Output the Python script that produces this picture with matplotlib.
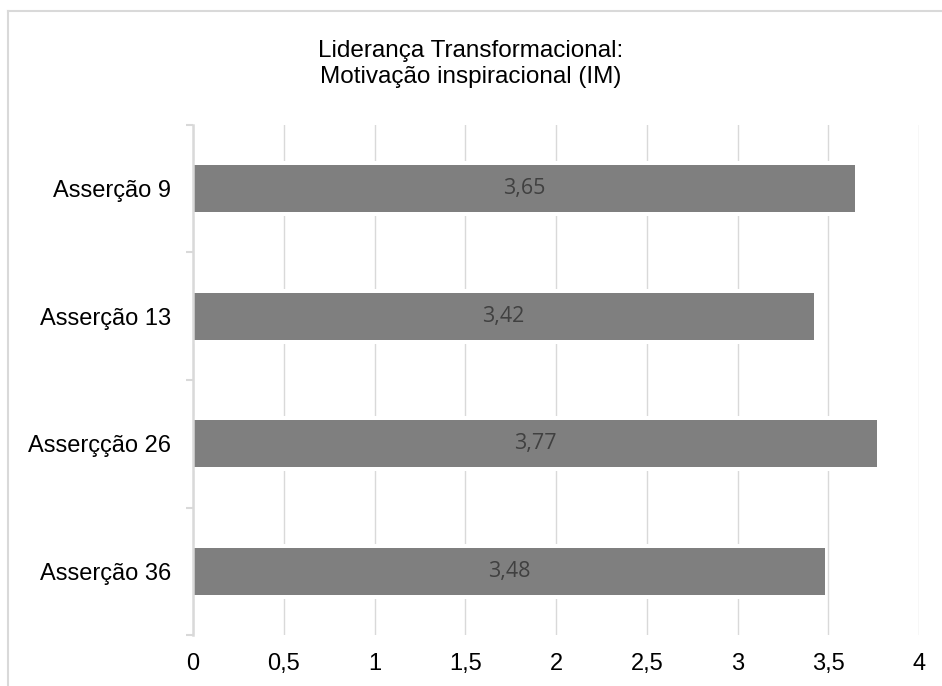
import matplotlib
matplotlib.use("Agg")
import matplotlib.pyplot as plt
from matplotlib.lines import Line2D
from matplotlib.ticker import FixedLocator, FuncFormatter
import numpy as np

# Data
categories = ["Asserção 9", "Asserção 13", "Asserçção 26", "Asserção 36"]
values = [3.65, 3.42, 3.77, 3.48]
value_labels = ["3,65", "3,42", "3,77", "3,48"]
x_ticks = [0, 0.5, 1, 1.5, 2, 2.5, 3, 3.5, 4]
title = "Liderança Transformacional:\nMotivação inspiracional (IM)"

plt.rcParams["font.family"] = ["Liberation Sans", "DejaVu Sans"]

fig = plt.figure(figsize=(9.42, 6.86), dpi=100)
ax = fig.add_axes([0.2049, 0.0743, 0.7707, 0.7435])

n = len(categories)
y = np.arange(n)[::-1]  # first category on top
bar_h = 0.366
gap = 0.032

GRID = "#d9d9d9"

# white halo so gridlines stop short of the bars
ax.barh(y, values, height=bar_h + 2 * gap, color="white", zorder=1.5, linewidth=0)
ax.barh(y, values, height=bar_h, color="#7f7f7f", zorder=2, linewidth=0)

for yi, v, lab in zip(y, values, value_labels):
    ax.text(v / 2, yi, lab, ha="center", va="center", color="#404040",
            fontsize=15.5, family=["Open Sans", "DejaVu Sans"], zorder=3)

ax.set_xlim(0, 4)
ax.set_ylim(-0.5, n - 0.5)
ax.set_xticks(x_ticks)
ax.xaxis.set_major_formatter(FuncFormatter(lambda v, p: f"{v:g}".replace(".", ",")))
ax.set_yticks(y)
ax.set_yticklabels(categories)
ax.yaxis.set_minor_locator(FixedLocator(np.arange(-0.5, n, 1.0)))

ax.tick_params(axis="x", length=0, pad=13, labelsize=17, colors="black")
ax.tick_params(axis="y", which="major", length=0, pad=16, labelsize=17)
ax.tick_params(axis="y", which="minor", length=5, width=1.5, color=GRID)

ax.grid(axis="x", color=GRID, linewidth=1.0, zorder=0)
ax.set_axisbelow(True)
for s in ["top", "right", "bottom"]:
    ax.spines[s].set_visible(False)
ax.spines["left"].set_color(GRID)
ax.spines["left"].set_linewidth(1.8)
ax.spines["left"].set_zorder(2.5)

fig.text(0.5, 0.907, title, ha="center", va="center", fontsize=17.5,
         linespacing=1.25)

# chart area frame (left and top edges)
fig.add_artist(Line2D([8 / 942, 8 / 942], [0, 1 - 11 / 686], transform=fig.transFigure,
                      color=GRID, linewidth=1.5))
fig.add_artist(Line2D([8 / 942, 1], [1 - 11 / 686, 1 - 11 / 686], transform=fig.transFigure,
                      color=GRID, linewidth=1.5))

fig.savefig("out.png", dpi=100)
